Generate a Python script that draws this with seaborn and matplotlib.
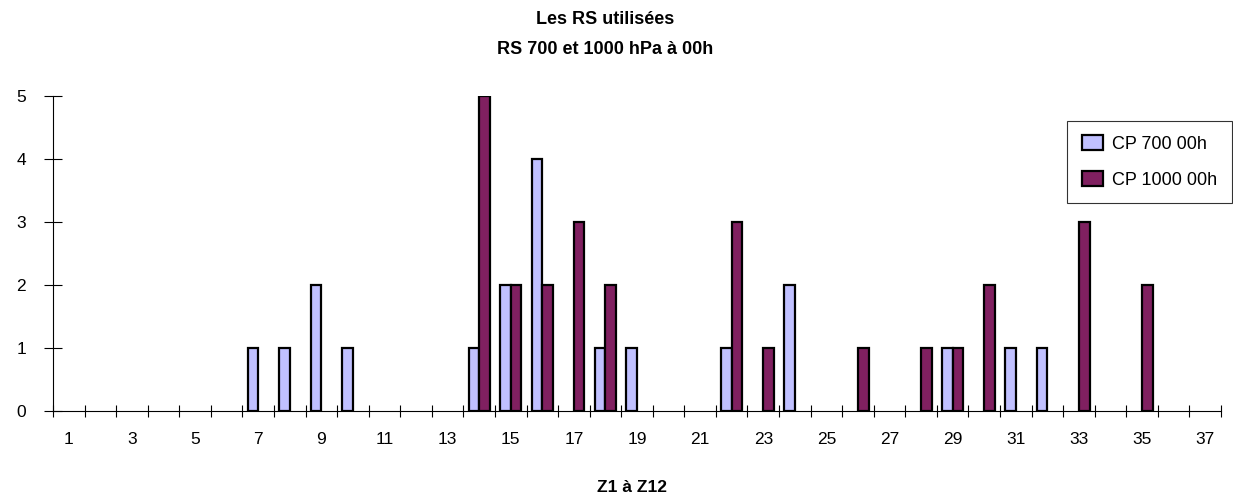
import matplotlib
matplotlib.use("Agg")
import matplotlib.pyplot as plt
import seaborn as sns
import pandas as pd
import numpy as np

# ---- data ----
categories = list(range(1, 38))
cp700_zones = [7, 8, 9, 10, 14, 15, 16, 18, 19, 22, 24, 29, 31, 32]
cp700_counts = [1, 1, 2, 1, 1, 2, 4, 1, 1, 1, 2, 1, 1, 1]
cp1000_zones = [14, 15, 16, 17, 18, 22, 23, 26, 28, 29, 30, 33, 35]
cp1000_counts = [5, 2, 2, 3, 2, 3, 1, 1, 1, 1, 2, 3, 2]
series_names = ["CP 700 00h", "CP 1000 00h"]
tick_labels = [str(c) for c in categories[::2]]
title_text = "Les RS utilisées\nRS 700 et 1000 hPa à 00h"
xlabel_text = "Z1 à Z12"

colors = ["#C0C0FF", "#802060"]

df = pd.DataFrame({
    "zone": cp700_zones + cp1000_zones,
    "count": cp700_counts + cp1000_counts,
    "serie": [series_names[0]] * len(cp700_zones) + [series_names[1]] * len(cp1000_zones),
})

sns.set_style("white")
plt.rcParams["font.family"] = ["Liberation Sans", "DejaVu Sans"]
plt.rcParams["text.color"] = "black"
plt.rcParams["xtick.color"] = "black"
plt.rcParams["ytick.color"] = "black"
plt.rcParams["axes.labelcolor"] = "black"

W, H = 1233, 503
fig = plt.figure(figsize=(W / 100, H / 100), dpi=100)
ax = fig.add_axes([53 / W, 1 - 411 / H, (1221 - 53) / W, (411 - 96) / H])

sns.barplot(data=df, x="zone", y="count", hue="serie", order=categories,
            hue_order=series_names, palette=colors, width=0.67, saturation=1,
            edgecolor="black", linewidth=1.6, ax=ax, errorbar=None)

ax.set_xlim(-0.5, len(categories) - 0.5)
ax.set_ylim(0, 5)

# x ticks: marks at category boundaries, labels at odd categories
ax.set_xticks(np.arange(-0.5, len(categories), 1.0))
ax.set_xticklabels([])
ax.set_xticks(np.arange(0, len(categories), 2), minor=True)
ax.set_xticklabels(tick_labels, minor=True)
ax.tick_params(axis="x", which="major", direction="inout", length=9, width=0.8,
               color="black", bottom=True)
ax.tick_params(axis="x", which="minor", length=0, pad=15, labelsize=12.5,
               labelcolor="black")

ax.set_yticks(range(0, 6))
ax.tick_params(axis="y", direction="inout", length=13, width=0.8, color="black",
               left=True, pad=13, labelsize=12.5, labelcolor="black")

for s in ["top", "right"]:
    ax.spines[s].set_visible(False)
for s in ["left", "bottom"]:
    ax.spines[s].set_color("black")
    ax.spines[s].set_linewidth(0.8)

ax.set_xlabel("")
ax.set_ylabel("")
ax.grid(False)

handles, labels = ax.get_legend_handles_labels()
if ax.get_legend() is not None:
    ax.get_legend().remove()
leg = fig.legend(handles, labels, loc="upper right",
                 bbox_to_anchor=(1232 / W, 1 - 121 / H),
                 frameon=True, fancybox=False, fontsize=13,
                 handlelength=1.2, handleheight=0.9, handletextpad=0.5,
                 borderpad=0.8, labelspacing=1.0, borderaxespad=0)
leg.get_frame().set_edgecolor("black")
leg.get_frame().set_linewidth(0.8)
for t in leg.get_texts():
    t.set_color("black")

fig.text(605 / W, 1 - 35 / H, title_text, ha="center", va="center",
         fontsize=13, fontweight="bold", linespacing=2.0, color="black")
fig.text(632 / W, 1 - 487 / H, xlabel_text, ha="center", va="center",
         fontsize=12.5, fontweight="bold", color="black")

fig.savefig("out.png", dpi=100, facecolor="white")
